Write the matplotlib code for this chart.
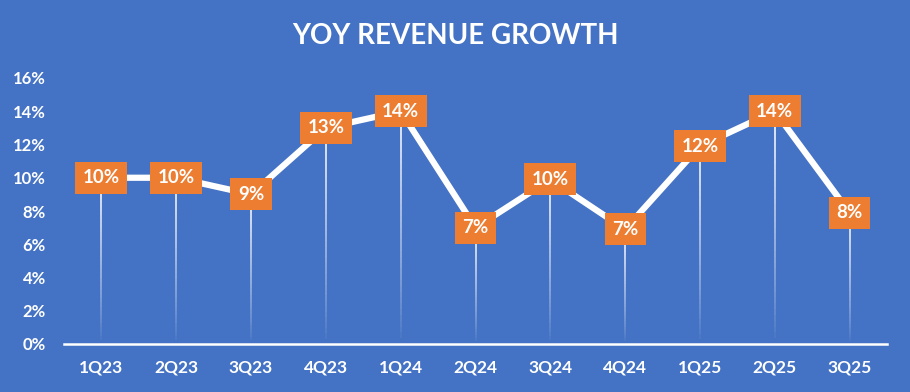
import matplotlib.pyplot as plt
import numpy as np
from matplotlib.collections import LineCollection
from matplotlib.ticker import PercentFormatter

BG = "#4472C4"
ORANGE = "#ED7D31"
FONT = ["Lato", "DejaVu Sans"]

quarters = ["1Q23", "2Q23", "3Q23", "4Q23", "1Q24", "2Q24", "3Q24", "4Q24", "1Q25", "2Q25", "3Q25"]
growth = [0.100, 0.100, 0.090, 0.130, 0.140, 0.070, 0.099, 0.069, 0.119, 0.140, 0.079]
y_ticks = [0.00, 0.02, 0.04, 0.06, 0.08, 0.10, 0.12, 0.14, 0.16]

plt.rcParams["font.family"] = FONT

fig = plt.figure(figsize=(9.10, 3.92), dpi=100, facecolor=BG)
ax = fig.add_axes([64 / 910, 48 / 392, 823 / 910, 266 / 392], facecolor=BG)

x = np.arange(len(quarters))

# drop lines, fading towards the axis
n_seg = 40
for xi, yi in zip(x, growth):
    ys = np.linspace(0, yi, n_seg + 1)
    segs = [[(xi, ys[k]), (xi, ys[k + 1])] for k in range(n_seg)]
    alphas = np.linspace(0.0, 1.0, n_seg) ** 0.8
    cols = [(1, 1, 1, a) for a in alphas]
    ax.add_collection(LineCollection(segs, colors=cols, linewidths=1.2, zorder=1))

ax.plot(x, growth, color="white", linewidth=4.5, zorder=2, solid_joinstyle="miter")

for xi, yi in zip(x, growth):
    ax.text(xi, yi, f"{yi * 100:.0f}%", ha="center", va="center", color="white",
            fontsize=13.5, fontweight="bold", zorder=3,
            bbox=dict(boxstyle="square,pad=0.4", fc=ORANGE, ec="none"))

ax.set_xlim(-0.5, len(quarters) - 0.5)
ax.set_ylim(0, 0.16)
ax.set_xticks(x)
ax.set_xticklabels(quarters, fontsize=12.5, fontweight="bold", color="white")
ax.set_yticks(y_ticks)
ax.yaxis.set_major_formatter(PercentFormatter(1.0, decimals=0))
ax.tick_params(axis="y", length=0, pad=13, labelsize=12, labelcolor="white")
ax.tick_params(axis="x", length=0, pad=11)
for lab in ax.get_yticklabels():
    lab.set_fontweight("bold")

for side in ["top", "right", "left"]:
    ax.spines[side].set_visible(False)
ax.spines["bottom"].set_color("white")
ax.spines["bottom"].set_linewidth(1.8)

fig.text(0.5, 1 - 36 / 392, "YOY REVENUE GROWTH", ha="center", va="center",
         color="white", fontsize=20, fontweight="bold")

fig.savefig("out.png", dpi=100, facecolor=BG)
